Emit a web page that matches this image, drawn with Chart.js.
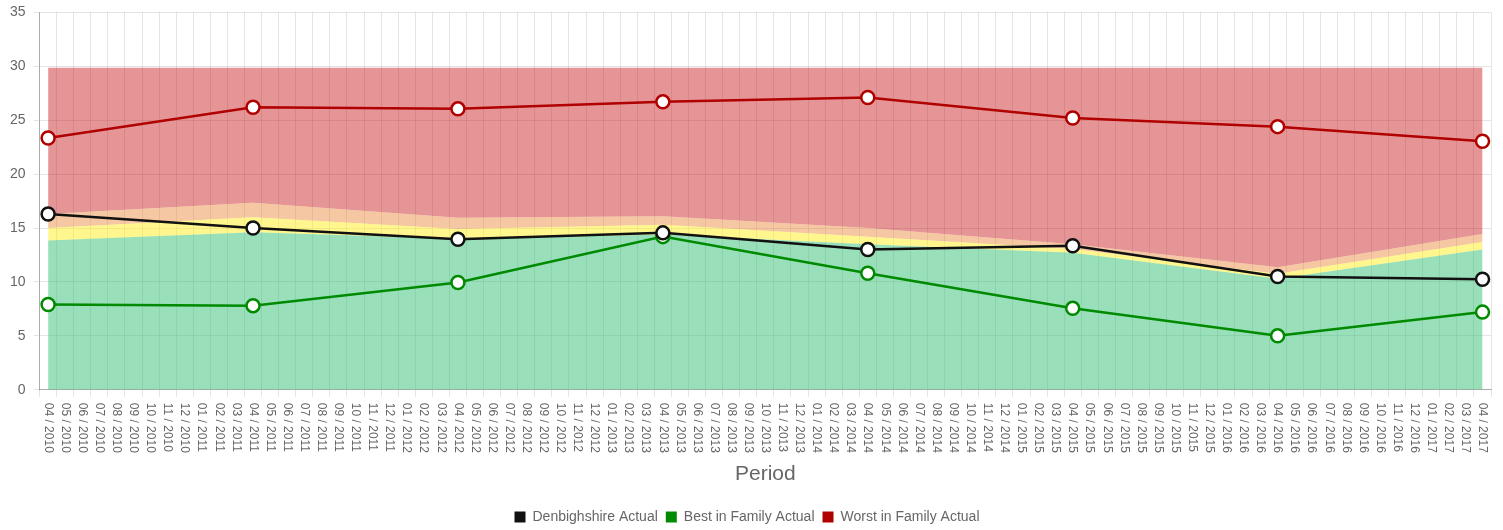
<!DOCTYPE html>
<html>
<head>
<meta charset="utf-8">
<script src="https://cdn.jsdelivr.net/npm/chart.js@4.4.0/dist/chart.umd.min.js"></script>
<style>
  html, body { margin: 0; padding: 0; background: #fff; }
  .chart_cont { width: 1503px; height: 530px; }
</style>
</head>
<body>
<div class="chart_cont"><canvas id="period_chart"></canvas></div>
<script>
// monthly labels 04/2010 .. 04/2017
const months = ['04', '05', '06', '07', '08', '09', '10', '11', '12', '01', '02', '03'];
const labels = [];
for (let i = 0; i <= 84; i++) {
  const m = months[i % 12];
  const y = 2010 + Math.floor((i + 3) / 12);
  labels.push(m + ' / ' + y);
}

// yearly values (April each year, 2010..2017)
const denbighshire = [16.3, 15.0, 13.95, 14.55, 13.0, 13.35, 10.5, 10.25];
const bestFamily = [7.9, 7.8, 9.95, 14.2, 10.8, 7.55, 5.0, 7.2];
const worstFamily = [23.35, 26.2, 26.05, 26.7, 27.1, 25.2, 24.4, 23.05];

// background bands (upper edge of each band)
const bandGreen = [13.85, 14.6, 14.0, 14.4, 13.5, 12.7, 10.3, 13.0];
const bandYellow = [15.0, 16.0, 14.9, 15.3, 14.2, 13.05, 10.75, 13.7];
const bandOrange = [16.3, 17.35, 15.95, 16.1, 15.0, 13.5, 11.35, 14.45];
const bandRed = [29.85, 29.85, 29.85, 29.85, 29.85, 29.85, 29.85, 29.85];

const yTicks = [0, 5, 10, 15, 20, 25, 30, 35];

// spread yearly values onto the monthly axis (April slots only)
const toMonthly = (arr) => {
  const out = new Array(labels.length).fill(null);
  arr.forEach((v, i) => { out[i * 12] = v; });
  return out;
};

// category scale with labels reading downwards
class DownCategory extends Chart.CategoryScale {
  _computeLabelItems(chartArea) {
    const items = super._computeLabelItems(chartArea);
    items.forEach(function (it) {
      if (it.options.rotation) {
        it.options.rotation = -it.options.rotation;
        it.options.textAlign = 'left';
        it.options.translation[0] += it.font.lineHeight;
      }
    });
    return items;
  }
}
DownCategory.id = 'downcategory';
DownCategory.defaults = Chart.CategoryScale.defaults;
Chart.register(DownCategory);

const lineSet = (label, arr, color) => ({
  label: label,
  data: toMonthly(arr),
  borderColor: color,
  backgroundColor: color,
  borderWidth: 2.5,
  pointBackgroundColor: '#fff',
  pointBorderColor: color,
  pointBorderWidth: 2.5,
  pointRadius: 6.5,
  fill: false,
  spanGaps: true,
  tension: 0,
  order: 0
});

const bandSet = (label, arr, color, fill) => ({
  label: label,
  data: toMonthly(arr),
  borderWidth: 0,
  borderColor: 'rgba(0,0,0,0)',
  backgroundColor: color,
  pointRadius: 0,
  pointHoverRadius: 0,
  fill: fill,
  spanGaps: true,
  tension: 0,
  order: 10
});

const ctx = document.querySelector('#period_chart').getContext('2d');

new Chart(ctx, {
  type: 'line',
  data: {
    labels: labels,
    datasets: [
      lineSet('Denbighshire Actual', denbighshire, '#111111'),
      lineSet('Best in Family Actual', bestFamily, '#008a00'),
      lineSet('Worst in Family Actual', worstFamily, '#b00000'),
      bandSet('band_green', bandGreen, 'rgba(52, 191, 118, 0.5)', 'origin'),
      bandSet('band_yellow', bandYellow, 'rgba(255, 240, 30, 0.5)', '-1'),
      bandSet('band_orange', bandOrange, 'rgba(232, 130, 50, 0.45)', '-1'),
      bandSet('band_red', bandRed, 'rgba(200, 20, 25, 0.45)', '-1')
    ]
  },
  options: {
    responsive: true,
    maintainAspectRatio: false,
    animation: false,
    layout: {
      padding: { top: 0, right: 11, left: 2, bottom: -4 }
    },
    scales: {
      x: {
        type: 'downcategory',
        offset: true,
        grid: {
          offset: true,
          color: 'rgba(0,0,0,0.1)',
          tickLength: 7
        },
        border: { color: 'rgba(0,0,0,0.25)' },
        ticks: {
          autoSkip: false,
          minRotation: 90,
          maxRotation: 90,
          padding: 6,
          color: '#666',
          font: { size: 12, family: 'Arial, "Liberation Sans", sans-serif' }
        },
        title: {
          display: true,
          text: 'Period',
          color: '#666',
          font: { size: 21, family: 'Arial, "Liberation Sans", sans-serif' },
          padding: { top: 3, bottom: 15 }
        }
      },
      y: {
        min: 0,
        max: 35,
        afterBuildTicks: function (scale) {
          scale.ticks = yTicks.map(v => ({ value: v }));
        },
        grid: {
          color: 'rgba(0,0,0,0.1)',
          tickLength: 6
        },
        border: { color: 'rgba(0,0,0,0.25)' },
        ticks: {
          padding: 8,
          color: '#666',
          font: { size: 14, lineHeight: 0.62, family: 'Arial, "Liberation Sans", sans-serif' }
        }
      }
    },
    plugins: {
      tooltip: { enabled: false },
      legend: {
        position: 'bottom',
        labels: {
          boxWidth: 11,
          boxHeight: 11,
          color: '#666',
          font: { size: 14, family: 'Arial, "Liberation Sans", sans-serif' },
          padding: 8,
          filter: item => item.text.indexOf('band_') !== 0,
          generateLabels: function (chart) {
            const items = Chart.defaults.plugins.legend.labels.generateLabels(chart);
            items.forEach(it => {
              it.fillStyle = it.strokeStyle;
              it.lineWidth = 0;
            });
            return items;
          }
        }
      }
    }
  }
});
</script>
</body>
</html>
